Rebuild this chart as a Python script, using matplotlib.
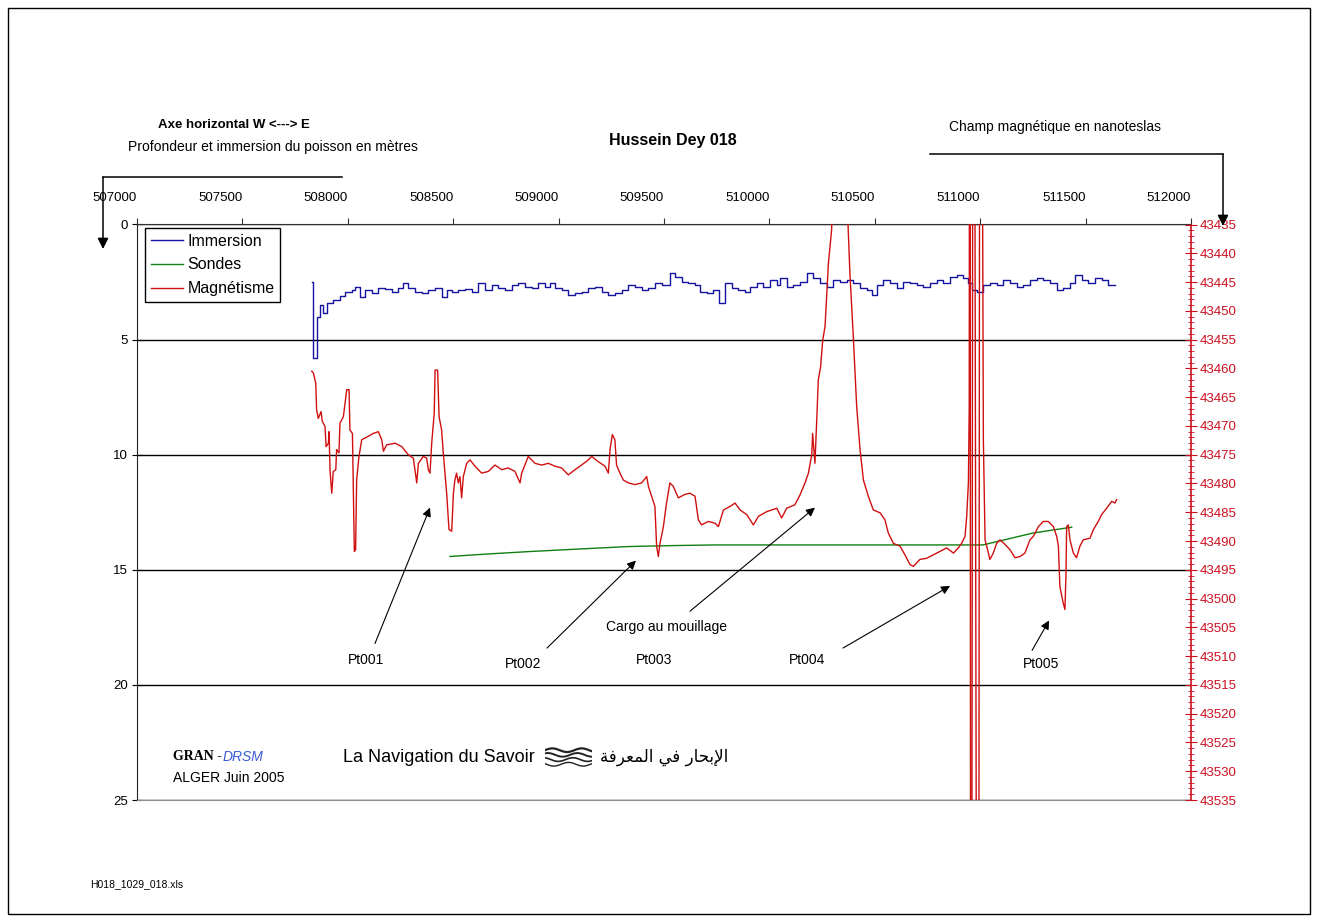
import numpy as np
import matplotlib
matplotlib.use('Agg')
import matplotlib.pyplot as plt
from matplotlib.lines import Line2D
from matplotlib.patches import Rectangle, FancyArrowPatch
from matplotlib.ticker import MultipleLocator

plt.rcParams['font.family'] = ['Liberation Sans', 'DejaVu Sans']

# --- Immersion du poisson (m), position Est (m)
immersion_x = [507830, 507835, 507854, 507868, 507882, 507901, 507930, 507963, 507987, 508019,
               508034, 508058, 508082, 508113, 508145, 508177, 508208, 508240, 508263, 508287,
               508319, 508351, 508382, 508414, 508445, 508469, 508493, 508524, 508556, 508588,
               508619, 508651, 508683, 508714, 508746, 508778, 508809, 508841, 508872, 508904,
               508936, 508959, 508983, 509015, 509046, 509078, 509110, 509141, 509173, 509205,
               509236, 509268, 509299, 509331, 509363, 509394, 509426, 509457, 509489, 509529,
               509552, 509584, 509615, 509647, 509671, 509703, 509734, 509761, 509789, 509821,
               509853, 509884, 509908, 509940, 509971, 510003, 510035, 510050, 510082, 510114,
               510145, 510177, 510208, 510240, 510272, 510303, 510335, 510367, 510398, 510430,
               510462, 510485, 510509, 510541, 510572, 510604, 510636, 510667, 510699, 510730,
               510762, 510794, 510825, 510857, 510889, 510920, 510944, 510960, 510983, 511015,
               511047, 511078, 511110, 511142, 511173, 511205, 511236, 511268, 511300, 511331,
               511363, 511394, 511426, 511450, 511482, 511513, 511545, 511577, 511608, 511640]
immersion_m = [2.48, 5.80, 4.00, 3.50, 3.85, 3.40, 3.30, 3.10, 2.92, 2.84,
               2.70, 3.13, 2.84, 2.99, 2.77, 2.82, 2.92, 2.77, 2.55, 2.77,
               2.92, 2.99, 2.84, 2.77, 3.13, 2.84, 2.92, 2.84, 2.82, 2.92,
               2.55, 2.84, 2.63, 2.77, 2.84, 2.63, 2.55, 2.70, 2.77, 2.55,
               2.70, 2.55, 2.77, 2.84, 3.06, 2.99, 2.92, 2.77, 2.70, 2.92,
               3.06, 2.99, 2.84, 2.63, 2.70, 2.84, 2.77, 2.55, 2.63, 2.12,
               2.27, 2.48, 2.55, 2.63, 2.92, 2.99, 2.84, 3.42, 2.56, 2.77,
               2.84, 2.92, 2.70, 2.56, 2.70, 2.41, 2.63, 2.34, 2.70, 2.63,
               2.48, 2.12, 2.34, 2.56, 2.70, 2.41, 2.48, 2.41, 2.56, 2.77,
               2.84, 3.06, 2.63, 2.41, 2.56, 2.77, 2.48, 2.56, 2.63, 2.70,
               2.56, 2.41, 2.56, 2.27, 2.19, 2.34, 2.56, 2.84, 2.92, 2.63,
               2.56, 2.63, 2.41, 2.56, 2.70, 2.63, 2.41, 2.34, 2.41, 2.56,
               2.84, 2.77, 2.56, 2.19, 2.41, 2.56, 2.34, 2.41, 2.63, 2.63]

# --- Sondes (m)
sondes_x = [508485, 508670, 508856, 509090, 509331, 509530, 509742, 511013, 511252, 511434]
sondes_m = [14.42, 14.31, 14.21, 14.10, 13.99, 13.95, 13.92, 13.92, 13.40, 13.15]

# --- Magnetisme (nT)
magnet_x = [507829, 507837, 507848, 507852, 507860, 507873, 507879, 507892, 507897, 507908,
            507911, 507916, 507924, 507931, 507943, 507947, 507958, 507963, 507979, 507995,
            508006, 508010, 508022, 508031, 508037, 508042, 508053, 508066, 508082, 508097,
            508121, 508145, 508161, 508169, 508184, 508224, 508256, 508287, 508311, 508327,
            508335, 508358, 508374, 508382, 508390, 508398, 508410, 508414, 508426, 508433,
            508445, 508453, 508469, 508480, 508493, 508501, 508508, 508516, 508524, 508532,
            508540, 508548, 508564, 508580, 508603, 508635, 508667, 508698, 508730, 508761,
            508793, 508817, 508825, 508856, 508888, 508920, 508951, 508983, 509014, 509046,
            509078, 509109, 509141, 509157, 509188, 509220, 509236, 509244, 509255, 509267,
            509275, 509291, 509307, 509331, 509362, 509394, 509418, 509426, 509441, 509457,
            509465, 509473, 509481, 509497, 509512, 509528, 509544, 509568, 509599, 509623,
            509647, 509663, 509678, 509710, 509742, 509758, 509782, 509813, 509837, 509861,
            509892, 509924, 509948, 509987, 510035, 510058, 510082, 510121, 510145, 510169,
            510185, 510201, 510205, 510216, 510224, 510232, 510243, 510253, 510264, 510280,
            510295, 510310, 510335, 510355, 510374, 510382, 510398, 510414, 510430, 510446,
            510469, 510493, 510525, 510548, 510564, 510588, 510620, 510643, 510667, 510683,
            510714, 510746, 510778, 510809, 510841, 510873, 510896, 510912, 510928, 510936,
            510944, 510948, 510951, 510956, 510968, 510990, 511000, 511015, 511023, 511031,
            511046, 511062, 511078, 511094, 511118, 511141, 511165, 511189, 511212, 511236,
            511252, 511276, 511299, 511323, 511347, 511363, 511371, 511378, 511394, 511402,
            511407, 511410, 511418, 511426, 511442, 511457, 511473, 511489, 511521, 511537,
            511560, 511576, 511600, 511624, 511639, 511647]
magnet_nt = [43460.5, 43460.8, 43462.6, 43467.2, 43468.7, 43467.5, 43469.2, 43470.1, 43473.6, 43473.0,
             43471.0, 43477.9, 43481.7, 43477.9, 43477.6, 43474.1, 43474.7, 43469.5, 43468.4, 43463.7,
             43463.7, 43470.7, 43471.3, 43491.8, 43491.5, 43479.4, 43475.3, 43472.4, 43472.1, 43471.8,
             43471.3, 43471.0, 43472.4, 43474.4, 43473.3, 43473.0, 43473.6, 43475.0, 43475.6, 43479.9,
             43476.5, 43475.3, 43475.6, 43477.6, 43478.2, 43473.0, 43467.8, 43460.3, 43460.3, 43468.4,
             43470.7, 43474.7, 43481.7, 43488.0, 43488.3, 43481.7, 43479.4, 43478.2, 43479.9, 43478.8,
             43482.5, 43478.8, 43476.5, 43475.9, 43477.0, 43478.2, 43477.9, 43476.8, 43477.6, 43477.3,
             43477.9, 43479.9, 43478.2, 43475.3, 43476.5, 43476.8, 43476.5, 43477.0, 43477.3, 43478.5,
             43477.6, 43476.8, 43475.9, 43475.3, 43476.2, 43477.0, 43478.2, 43474.1, 43471.5, 43472.4,
             43476.8, 43478.2, 43479.4, 43479.9, 43480.2, 43479.9, 43478.8, 43480.5, 43482.2, 43484.0,
             43490.9, 43492.7, 43490.4, 43487.5, 43483.4, 43479.9, 43480.5, 43482.5, 43481.9, 43481.7,
             43482.2, 43486.3, 43487.2, 43486.6, 43486.9, 43487.5, 43484.6, 43484.0, 43483.4, 43484.6,
             43485.4, 43487.2, 43485.7, 43484.9, 43484.3, 43486.0, 43484.3, 43483.7, 43482.0, 43479.9,
             43478.2, 43475.0, 43471.3, 43476.5, 43469.5, 43462.0, 43459.7, 43455.1, 43452.7, 43441.7,
             43436.0, 43410.0, 43400.0, 43415.0, 43436.0, 43443.5, 43454.5, 43466.6, 43474.1, 43479.4,
             43482.2, 43484.6, 43485.1, 43486.3, 43488.6, 43490.4, 43490.9, 43492.4, 43494.1, 43494.4,
             43493.2, 43493.0, 43492.4, 43491.8, 43491.2, 43492.1, 43491.2, 43490.4, 43489.2, 43485.7,
             43479.9, 43466.6, 43300.0, 43700.0, 43300.0, 43700.0, 43300.0, 43472.4, 43489.8, 43490.9,
             43493.2, 43492.1, 43490.4, 43489.8, 43490.6, 43491.5, 43492.9, 43492.7, 43492.1, 43489.8,
             43489.2, 43487.5, 43486.6, 43486.6, 43487.5, 43489.2, 43490.9, 43497.9, 43500.8, 43501.9,
             43495.6, 43487.5, 43487.2, 43489.8, 43492.1, 43492.9, 43490.9, 43489.8, 43489.5, 43488.0,
             43486.6, 43485.4, 43484.3, 43483.1, 43483.4, 43482.8]

x_ticks = [507000, 507500, 508000, 508500, 509000, 509500, 510000, 510500, 511000, 511500, 512000]
depth_ticks = [0, 5, 10, 15, 20, 25]
nt_ticks = list(range(43435, 43536, 5))

# points remarquables : (texte, position du texte, depart fleche, pointe fleche) en (Est, m)
points = [
    ('Pt001', (508086, 18.9), (508129, 18.2), (508390, 12.3)),
    ('Pt002', (508831, 19.1), (508945, 18.4), (509367, 14.6)),
    ('Pt003', (509453, 18.9), None, None),
    ('Cargo au mouillage', (509514, 17.5), (509623, 16.8), (510216, 12.3)),
    ('Pt004', (510178, 18.9), (510349, 18.4), (510857, 15.7)),
    ('Pt005', (511289, 19.1), (511246, 18.5), (511327, 17.2)),
]

BLUE = '#1414a0'
GREEN = '#108010'
RED = '#d01010'
AXRED = '#cc1020'

W, H = 1318, 922
fig = plt.figure(figsize=(W / 100, H / 100), dpi=100)
fig.patch.set_facecolor('white')


def fx(px):
    return px / W


def fy(py):
    return 1 - py / H


left, right, top, bottom = 137, 1191, 224.5, 800
ax = fig.add_axes([fx(left), fy(bottom), (right - left) / W, (bottom - top) / H])
ax2 = ax.twinx()

# profondeur / immersion
ax.plot(immersion_x, immersion_m, color=BLUE, lw=1.0, drawstyle='steps-post', label='Immersion')
ax.plot(sondes_x, sondes_m, color=GREEN, lw=1.0, label='Sondes')
ax.set_xlim(507000, 512000)
ax.set_ylim(25, 0)
ax.set_xticks(x_ticks)
ax.set_yticks(depth_ticks)
ax.xaxis.tick_top()
ax.tick_params(axis='x', direction='out', length=4, pad=11, labelsize=9.5, color='#333333')
ax.tick_params(axis='y', direction='inout', length=7, pad=3, labelsize=9.5)
plt.setp(ax.get_xticklabels(), ha='right')
ax.yaxis.grid(True, color='black', lw=1.0)
ax.spines['top'].set_color('#333333')
ax.spines['bottom'].set_color('#909090')
ax.spines['right'].set_visible(False)
ax.spines['left'].set_color('#222222')

# champ magnetique
ax2.plot(magnet_x, magnet_nt, color=RED, lw=1.0, label='Magnétisme')
ax2.set_ylim(43535, 43435)
ax2.set_yticks(nt_ticks)
ax2.yaxis.set_minor_locator(MultipleLocator(1))
ax2.tick_params(axis='y', which='major', direction='inout', length=8, pad=2,
                labelsize=9.5, colors=AXRED)
ax2.tick_params(axis='y', which='minor', direction='inout', length=4, color=AXRED)
ax2.spines['right'].set_color(AXRED)
ax2.spines['right'].set_linewidth(1.2)
for s in ('top', 'bottom', 'left'):
    ax2.spines[s].set_visible(False)

handles = [Line2D([], [], color=BLUE, lw=1), Line2D([], [], color=GREEN, lw=1),
           Line2D([], [], color=RED, lw=1)]
leg = ax2.legend(handles, ['Immersion', 'Sondes', 'Magnétisme'], loc='upper left',
                 bbox_to_anchor=(0.0076, 0.994), fontsize=11.5, frameon=True, fancybox=False,
                 framealpha=1, edgecolor='black', handlelength=2.0, handletextpad=0.3,
                 labelspacing=0.55, borderpad=0.35, borderaxespad=0)
leg.get_frame().set_linewidth(1.0)

# annotations
for label, txy, tail, head in points:
    ax.text(txy[0], txy[1], label, ha='center', va='center', fontsize=10)
    if tail is not None:
        ax.annotate('', xy=head, xytext=tail,
                    arrowprops=dict(arrowstyle='-|>', color='black', lw=0.8,
                                    mutation_scale=13, shrinkA=0, shrinkB=0))

# titres et legendes d'axes
fig.text(fx(234), fy(125), 'Axe horizontal W <---> E', ha='center', va='center',
         fontsize=9.5, fontweight='bold')
fig.text(fx(273), fy(147), 'Profondeur et immersion du poisson en mètres', ha='center',
         va='center', fontsize=10)
fig.text(fx(673), fy(140), 'Hussein Dey 018', ha='center', va='center', fontsize=11.5,
         fontweight='bold')
fig.text(fx(1055), fy(127), 'Champ magnétique en nanoteslas', ha='center', va='center',
         fontsize=10)

# renvois vers les axes
fig.add_artist(Line2D([fx(342), fx(103)], [fy(177), fy(177)], transform=fig.transFigure,
                      color='black', lw=1.1))
fig.add_artist(FancyArrowPatch((fx(103), fy(177)), (fx(103), fy(249)), transform=fig.transFigure,
                               arrowstyle='-|>', mutation_scale=16, color='black', lw=1.1,
                               shrinkA=0, shrinkB=0))
fig.add_artist(Line2D([fx(930), fx(1223)], [fy(154), fy(154)], transform=fig.transFigure,
                      color='black', lw=1.1))
fig.add_artist(FancyArrowPatch((fx(1223), fy(154)), (fx(1223), fy(226)), transform=fig.transFigure,
                               arrowstyle='-|>', mutation_scale=16, color='black', lw=1.1,
                               shrinkA=0, shrinkB=0))

# cartouche
fig.text(fx(173), fy(757), 'GRAN -', ha='left', va='center', fontsize=10, fontweight='bold',
         family=['Liberation Serif', 'DejaVu Serif'])
fig.text(fx(223), fy(757), 'DRSM', ha='left', va='center', fontsize=10, style='italic',
         color='#3a5ad8')
fig.text(fx(173), fy(778), 'ALGER Juin 2005', ha='left', va='center', fontsize=10)
fig.text(fx(343), fy(757), 'La Navigation du Savoir', ha='left', va='center', fontsize=13,
         family=['Liberation Sans Narrow', 'Liberation Sans', 'DejaVu Sans'])
arabic = [0xFE8D, 0xFEF9, 0xFE91, 0xFEA4, 0xFE8E, 0xFEAD, 0x20, 0xFED3, 0xFEF2, 0x20,
          0xFE8D, 0xFEDF, 0xFEE4, 0xFECC, 0xFEAE, 0xFED3, 0xFE94]
fig.text(fx(600), fy(757), ''.join(chr(c) for c in reversed(arabic)), ha='left', va='center',
         fontsize=12, family=['DejaVu Sans'])

# petit logo vagues
lax = fig.add_axes([fx(545), fy(771), 47 / W, 26 / H])
t = np.linspace(0, 1, 60)
for k in range(4):
    lax.plot(t, 0.8 - 0.18 * k + 0.07 * np.sin(2 * np.pi * (1.6 * t + 0.15 * k)),
             color='#222222', lw=1.6 - 0.2 * k)
lax.set_xlim(0, 1)
lax.set_ylim(0, 1)
lax.axis('off')

fig.text(fx(90), fy(884), 'H018_1029_018.xls', ha='left', va='center', fontsize=7.5)

# cadre
fig.add_artist(Rectangle((fx(8), fy(914)), 1302 / W, 906 / H, transform=fig.transFigure,
                         fill=False, edgecolor='black', lw=1.0))

fig.savefig('out.png', dpi=100)
